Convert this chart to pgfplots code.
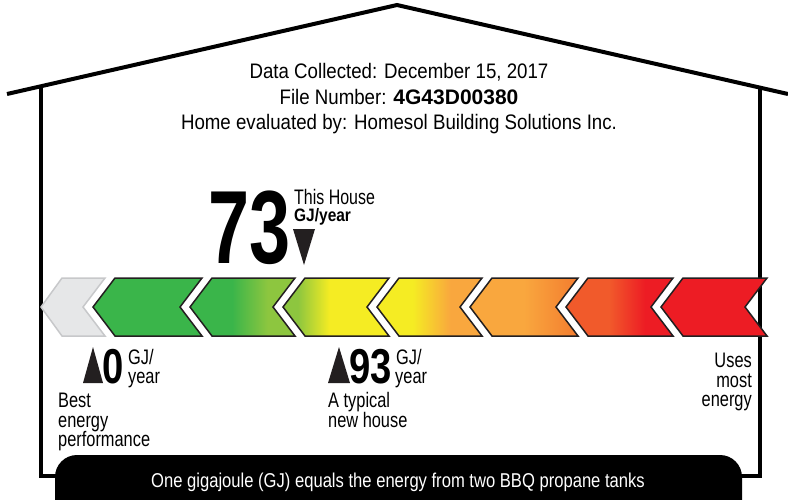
\documentclass[border=0pt]{standalone}
\usepackage{pgfplots}
\pgfplotsset{compat=1.18}
\usepackage{graphicx}
\usepackage{fontspec}
\setmainfont{Liberation Sans}

\definecolor{egGreen}{HTML}{3AB54A}
\definecolor{egLGreen}{HTML}{8DC63F}
\definecolor{egYellow}{HTML}{F5EC23}
\definecolor{egOrange}{HTML}{F9A73E}
\definecolor{egOrange2}{HTML}{F37C2F}
\definecolor{egOrRed}{HTML}{F15A2B}
\definecolor{egRed}{HTML}{ED1C24}
\definecolor{egGray}{HTML}{E6E7E8}
\definecolor{egGrayLine}{HTML}{C7C8CA}
\definecolor{ink}{HTML}{231F20}

% stops between 25bp and 75bp map onto the chevron's width
\pgfdeclarehorizontalshading{chB}{100bp}{color(0bp)=(egGreen); color(45bp)=(egGreen); color(62bp)=(egLGreen); color(100bp)=(egLGreen)}
\pgfdeclarehorizontalshading{chC}{100bp}{color(0bp)=(egLGreen); color(32bp)=(egLGreen); color(47bp)=(egYellow); color(100bp)=(egYellow)}
\pgfdeclarehorizontalshading{chD}{100bp}{color(0bp)=(egYellow); color(42bp)=(egYellow); color(60bp)=(egOrange); color(100bp)=(egOrange)}
\pgfdeclarehorizontalshading{chE}{100bp}{color(0bp)=(egOrange); color(50bp)=(egOrange); color(75bp)=(egOrange2); color(100bp)=(egOrange2)}
\pgfdeclarehorizontalshading{chF}{100bp}{color(0bp)=(egOrRed); color(45bp)=(egOrRed); color(62bp)=(egRed); color(100bp)=(egRed)}

\tikzset{chev/.style={draw=ink, line width=1.5pt, line join=miter}}
\newcommand{\nar}[2]{\scalebox{#1}[1]{#2}}

\begin{document}
\begin{tikzpicture}
\begin{axis}[
    width=788pt, height=499pt, scale only axis,
    xmin=0, xmax=788, ymin=0, ymax=499, y dir=reverse,
    hide axis, clip=true, no markers,
]
\coordinate (SW) at (rel axis cs:0,0);
\coordinate (NE) at (rel axis cs:1,1);

% house outline
\addplot[line width=4pt, black, line join=miter] coordinates {(7,94) (397,5) (788,94)};
\addplot[line width=4pt, black] coordinates {(40.5,87) (40.5,476) (65,476)};
\addplot[line width=4pt, black] coordinates {(759.5,87) (759.5,476) (735,476)};
\addplot[fill=black, draw=none, rounded corners=22pt] coordinates {(55,540) (55,455) (742,455) (742,540)} -- cycle;

% rating scale, right-to-left chevrons
\addplot[fill=egGray, draw=egGrayLine, line width=1.5pt, line join=miter] coordinates {(41,307) (62,278) (105,278) (83,307) (105,336) (62,336)} -- cycle;
\addplot[chev, fill=egGreen] coordinates {(93,307) (115,278) (202,278) (180,307) (202,336) (115,336)} -- cycle;
\addplot[chev, shading=chB] coordinates {(190,307) (212,278) (295,278) (273,307) (295,336) (212,336)} -- cycle;
\addplot[chev, shading=chC] coordinates {(283,307) (305,278) (389,278) (367,307) (389,336) (305,336)} -- cycle;
\addplot[chev, shading=chD] coordinates {(377,307) (399,278) (482,278) (460,307) (482,336) (399,336)} -- cycle;
\addplot[chev, shading=chE] coordinates {(470,307) (492,278) (578,278) (556,307) (578,336) (492,336)} -- cycle;
\addplot[chev, shading=chF] coordinates {(566,307) (588,278) (673,278) (651,307) (673,336) (588,336)} -- cycle;
\addplot[chev, fill=egRed] coordinates {(661,307) (683,278) (767,278) (745,307) (767,336) (683,336)} -- cycle;

% markers
\addplot[fill=ink, draw=none] coordinates {(293,229) (315,229) (304,265)} -- cycle;
\addplot[fill=ink, draw=none] coordinates {(83,383) (103,383) (93,347)} -- cycle;
\addplot[fill=ink, draw=none] coordinates {(328,383) (350,383) (339,347)} -- cycle;

% header
\node[anchor=base, inner sep=0] at (axis cs:399,78) {\nar{0.89}{\fontsize{21}{21}\selectfont Data Collected: December 15, 2017}};
\node[anchor=base, inner sep=0] at (axis cs:399,104) {\nar{0.89}{\fontsize{21}{21}\selectfont File Number: }{\fontsize{21}{21}\selectfont\bfseries 4G43D00380}};
\node[anchor=base, inner sep=0] at (axis cs:399,129.5) {\nar{0.89}{\fontsize{21}{21}\selectfont Home evaluated by: Homesol Building Solutions Inc.}};

% this house
\node[anchor=base east, inner sep=0] at (axis cs:291,263) {\nar{0.71}{\fontsize{104}{104}\selectfont\bfseries 73}};
\node[anchor=base west, inner sep=0] at (axis cs:294,204) {\nar{0.76}{\fontsize{21}{21}\selectfont This House}};
\node[anchor=base west, inner sep=0] at (axis cs:294,221) {\nar{0.86}{\fontsize{18}{18}\selectfont\bfseries GJ/year}};

% scale ends and reference
\node[anchor=base west, inner sep=0] at (axis cs:102,383) {\nar{0.78}{\fontsize{49}{49}\selectfont\bfseries 0}};
\node[anchor=base west, inner sep=0] at (axis cs:128,364) {\nar{0.78}{\fontsize{21}{21}\selectfont GJ/}};
\node[anchor=base west, inner sep=0] at (axis cs:128,383) {\nar{0.78}{\fontsize{21}{21}\selectfont year}};
\node[anchor=base west, inner sep=0] at (axis cs:349,383) {\nar{0.78}{\fontsize{49}{49}\selectfont\bfseries 93}};
\node[anchor=base west, inner sep=0] at (axis cs:396,364) {\nar{0.78}{\fontsize{21}{21}\selectfont GJ/}};
\node[anchor=base west, inner sep=0] at (axis cs:395,383) {\nar{0.78}{\fontsize{21}{21}\selectfont year}};

\node[anchor=base west, inner sep=0] at (axis cs:58,407) {\nar{0.78}{\fontsize{21}{21}\selectfont Best}};
\node[anchor=base west, inner sep=0] at (axis cs:58,427) {\nar{0.78}{\fontsize{21}{21}\selectfont energy}};
\node[anchor=base west, inner sep=0] at (axis cs:58,446) {\nar{0.78}{\fontsize{21}{21}\selectfont performance}};
\node[anchor=base west, inner sep=0] at (axis cs:328,407) {\nar{0.78}{\fontsize{21}{21}\selectfont A typical}};
\node[anchor=base west, inner sep=0] at (axis cs:328,427) {\nar{0.78}{\fontsize{21}{21}\selectfont new house}};
\node[anchor=base east, inner sep=0] at (axis cs:752,367) {\nar{0.78}{\fontsize{21}{21}\selectfont Uses}};
\node[anchor=base east, inner sep=0] at (axis cs:752,387) {\nar{0.78}{\fontsize{21}{21}\selectfont most}};
\node[anchor=base east, inner sep=0] at (axis cs:752,406) {\nar{0.78}{\fontsize{21}{21}\selectfont energy}};

% footer
\node[anchor=base, inner sep=0, text=white] at (axis cs:398,487) {\nar{0.83}{\fontsize{20}{20}\selectfont One gigajoule (GJ) equals the energy from two BBQ propane tanks}};
\end{axis}
\pgfresetboundingbox
\path (SW) rectangle (NE);
\end{tikzpicture}
\end{document}
